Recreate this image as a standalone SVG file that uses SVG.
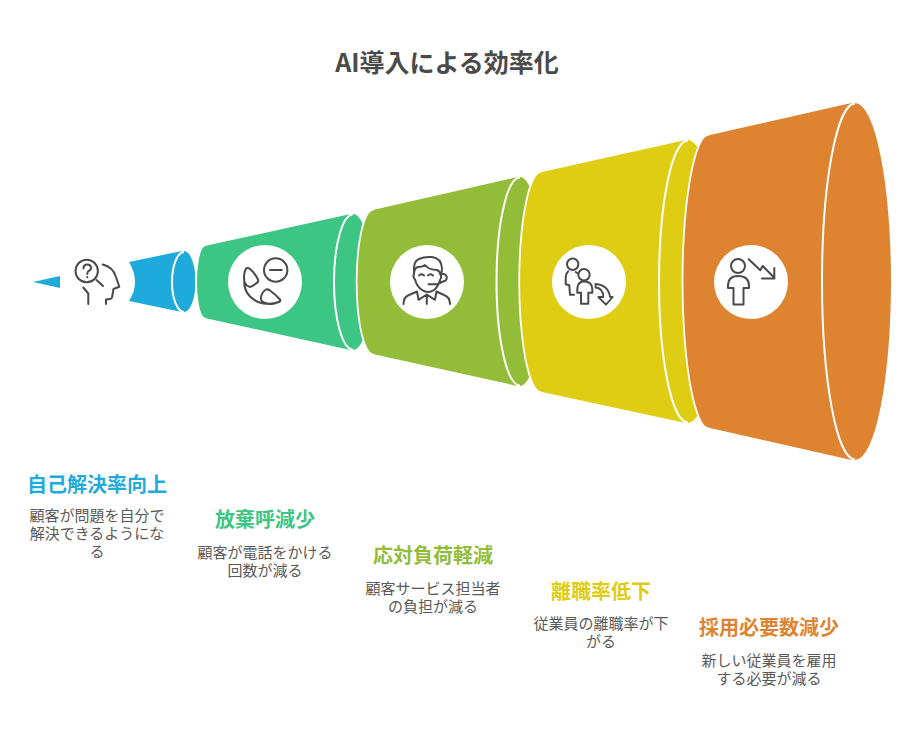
<svg xmlns="http://www.w3.org/2000/svg" width="916" height="736" viewBox="0 0 916 736">
<style>
text{font-family:"Noto Sans CJK JP","Noto Sans",sans-serif;text-anchor:middle}
.t{font-size:25px;font-weight:700;fill:#4a4a4a}
.h{font-size:20px;font-weight:700}
.b{font-size:15px;fill:#595959}
.s{stroke:#fff;stroke-width:3.5;paint-order:stroke}
.a{fill:none;stroke:#fff;stroke-width:2}
.i{fill:none;stroke:#4a4a4a;stroke-width:2;stroke-linejoin:round;stroke-linecap:round}
.c{fill:#fff}
</style>
<rect width="916" height="736" fill="#fff"/>
<text class="t" x="447" y="72">AI導入による効率化</text>
<g id="node-1">
<path d="M33 282L60 276V288Z" fill="#1eabdb"/>
<path d="M129 262L177 252Q181 251 184 251A11.500 30.500 0 0 1 184 312Q181 312 177 311L129 301Q135 292 135 282Q135 272 129 262Z" fill="#1eabdb"/>
<path class="a" d="M184 252A12 30 0 0 0 184 312"/>
<g class="i"><circle cx="86.700" cy="271" r="11.200"/><path d="M83.500 268.500Q83.500 264.500 87.300 264.500Q91 264.500 91 268Q91 270 88.500 271Q87.300 271.800 87.300 274"/><path d="M87.300 277V277.200M96.500 280L103 286M102.700 264.500Q113 267 116 277L119.300 286.700L113.500 289L112 297.500Q111.500 299.300 106 299.500V304M83.300 287.500L88.300 293.500V304"/></g>
<text class="h" x="97" y="492" fill="#1eabdb">自己解決率向上</text>
<text class="b"><tspan x="97" y="521">顧客が問題を自分で</tspan><tspan x="97" y="539">解決できるようにな</tspan><tspan x="97" y="557">る</tspan></text>
</g>
<g id="node-2">
<path class="s" d="M207 245.500L346 215Q350 214 353 214A19 68 0 0 1 353 350Q350 350 346 349L207 318.500Q205 318 203 316.500A8.400 36 0 0 1 203 247.500Q205 246 207 245.500Z" fill="#3dc583"/>
<path class="a" d="M353 214.500A19 67.500 0 0 0 353 349.500"/>
<circle class="c" cx="265" cy="282" r="37"/>
<g class="i"><circle cx="275.700" cy="270" r="11.700"/><path d="M270 270H281.700M246 268.500Q248 267.500 250 269Q255 273 258 279.500Q259 282 256 283.500Q253 286 250 287Q246 286 244.500 282Q243 274 246 268.500ZM244.300 279Q243 295 258 302Q264 304.500 272 304Q277 303.500 280 301M266 289.500Q268 289 270 290.500Q276 295 280 299.500Q281 301 279 302Q270 305 265 303Q260 301 261 297Q262 292 266 289.500Z"/></g>
<text class="h" x="265" y="527" fill="#3dc583">放棄呼減少</text>
<text class="b"><tspan x="265" y="558">顧客が電話をかける</tspan><tspan x="265" y="576">回数が減る</tspan></text>
</g>
<g id="node-3">
<path class="s" d="M375 209.500L513 178Q517 177 520 177A23 104.500 0 0 1 520 386Q517 386 513 385L375 354.500Q372 353.500 370 352A16.300 72 0 0 1 370 212Q372 210.500 375 209.500Z" fill="#93bd39"/>
<path class="a" d="M520 177.500A23.500 104 0 0 0 520 385.500"/>
<circle class="c" cx="427" cy="282" r="37"/>
<g class="i"><path d="M414 273Q413 261 419 259Q424 256.500 432 257Q441 258 442 268Q442 272 441 274M414 274Q414 268 418 267Q422 267 425 265Q429 270 437 270Q440 271 440.500 275M414 274Q412.500 277 415 279.500Q417 287 422 290Q428 294 434 290Q438 287 440 280Q441.500 278 441 275M441.500 274Q446 273.500 446.800 277Q447 281 443 281.500L437 284.300H428.500M419 275.500Q421 273 424 275.500M428 275.500Q430 273 433 275.500M403.500 304Q403.500 297 409 295L417 291.500L418.500 299.800L426.800 294.500L435 299.800L436.500 291.500L444 295Q450 297 450 304M426.800 294.500V304"/></g>
<text class="h" x="433" y="563" fill="#93bd39">応対負荷軽減</text>
<text class="b"><tspan x="433" y="594">顧客サービス担当者</tspan><tspan x="433" y="612">の負担が減る</tspan></text>
</g>
<g id="node-4">
<path class="s" d="M542 172L681 141Q685 140 688 140A30 141.500 0 0 1 688 423Q685 423 681 422L542 392Q539 391 537 389A22 110 0 0 1 537 175Q539 173 542 172Z" fill="#dfcd14"/>
<path class="a" d="M688 140.500A29 141 0 0 0 688 422.500"/>
<circle class="c" cx="589" cy="282" r="37"/>
<g class="i"><circle cx="572.700" cy="264.300" r="5.700"/><path d="M568.300 271.300Q565.700 273.500 565.700 278.700V284.300L569.300 285.300L570 294.700H574M575.700 272L578 273.500"/><circle cx="584" cy="274.700" r="5.700"/><path d="M584 281.300Q577.300 282 577.300 289V292.700H581V303.700H588.300V292.700H592.300V289Q592.300 282 584 281.300Z"/><path stroke-width="1.800" d="M595.500 284Q608.500 285 610 297H612.700L606 304.700L598.300 297H603.300Q603 288 595.500 287.500Z"/></g>
<text class="h" x="601" y="599" fill="#dfcd14">離職率低下</text>
<text class="b"><tspan x="601" y="629">従業員の離職率が下</tspan><tspan x="601" y="647">がる</tspan></text>
</g>
<g id="node-5">
<path class="s" d="M710 135L847 104Q851 103 855 103A36 178.500 0 0 1 855 460Q851 460 847 459L710 428Q706 427 704 425A27.300 148 0 0 1 704 138Q706 136 710 135Z" fill="#de8431"/>
<path class="a" d="M855 103.500A33 178 0 0 0 855 459.500"/>
<circle class="c" cx="751" cy="282" r="37"/>
<g class="i"><circle cx="738" cy="266" r="7"/><path d="M738 276Q728 276 728 286V288H733.500V304.500H743.500V288H749V286Q749 276 738 276ZM748.700 259.300L760.300 270.300L762.700 266L774.500 278M774.300 268V278.500H762"/></g>
<text class="h" x="769" y="635" fill="#de8431">採用必要数減少</text>
<text class="b"><tspan x="769" y="666">新しい従業員を雇用</tspan><tspan x="769" y="684">する必要が減る</tspan></text>
</g>
</svg>
